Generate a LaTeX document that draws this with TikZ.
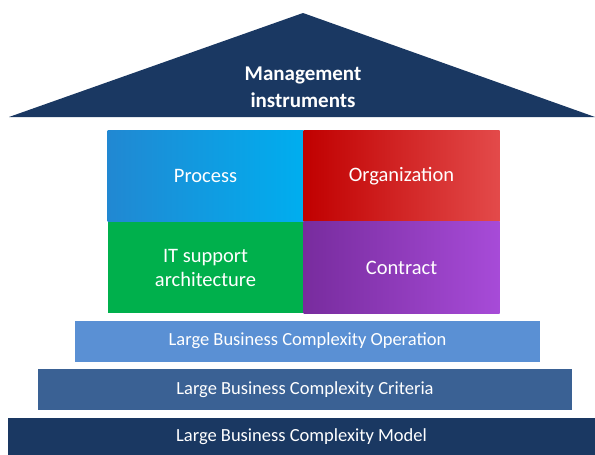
\documentclass[tikz,border=0pt]{standalone}
\usepackage{fontspec}
\setmainfont{Carlito}
\usepackage{tikz}
\usetikzlibrary{positioning}

\definecolor{navy}{HTML}{1A3862}
\definecolor{midblue}{HTML}{3A6194}
\definecolor{lightblue}{HTML}{5A90D4}
\definecolor{procleft}{HTML}{2188D2}
\definecolor{procright}{HTML}{00AEEF}
\definecolor{orgleft}{HTML}{C00000}
\definecolor{orgright}{HTML}{E34A4A}
\definecolor{itgreen}{HTML}{00B04C}
\definecolor{conleft}{HTML}{782C9E}
\definecolor{conright}{HTML}{A74BD8}

\begin{document}
\begin{tikzpicture}[x=1pt,y=-1pt,
    cell/.style={minimum width=196pt,minimum height=91.5pt,inner sep=0pt,text=white,align=center,font=\fontsize{20.5}{24}\selectfont},
    layer/.style={minimum height=41pt,inner sep=0pt,text=white,font=\fontsize{18.5}{21}\selectfont}]
            \useasboundingbox (0,0) rectangle (595,455);
            \fill[navy] (9,117) -- (303,13) -- (595,117) -- cycle;
            \node[text=white,align=center,font=\bfseries\fontsize{21}{27}\selectfont] (roof) at (303,87) {Management\\instruments};
            \node[cell,left color=procleft,right color=procright] (process) at (205.5,175.75) {Process};
            \node[cell,left color=orgleft,right color=orgright] (organization) at (401.5,175.75) {Organization};
            \node[cell,fill=itgreen,below=0pt of process] (it) {IT support\\architecture};
            \node[cell,left color=conleft,right color=conright,below=0pt of organization] (contract) {Contract};
            \node[layer,fill=lightblue,minimum width=465pt] (operation) at (307.5,341) {Large Business Complexity Operation};
            \node[layer,fill=midblue,minimum width=534pt] (criteria) at (305,389.5) {Large Business Complexity Criteria};
            \node[layer,fill=navy,minimum width=587pt,minimum height=38pt] (model) at (301.5,437) {Large Business Complexity Model};
          \end{tikzpicture}
\end{document}
